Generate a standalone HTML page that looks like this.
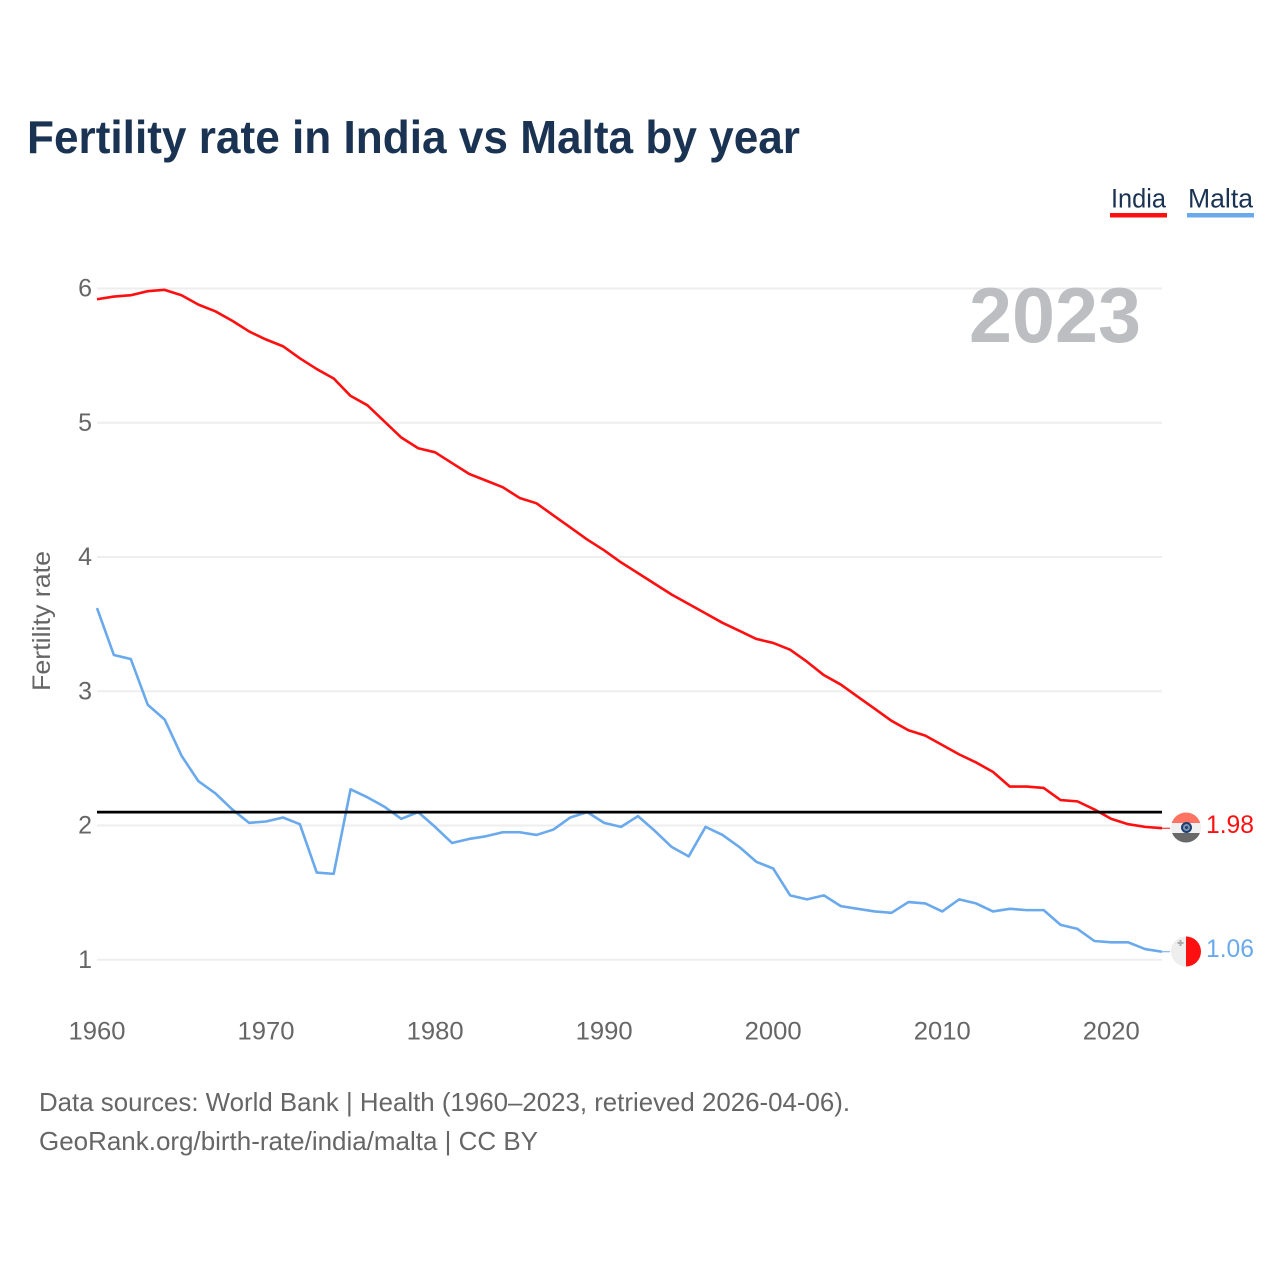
<!DOCTYPE html>
<html lang="en">
<head>
<meta charset="utf-8">
<title>Fertility rate in India vs Malta by year</title>
<style>
html,body{margin:0;padding:0;background:#fff;}
body{width:1280px;height:1280px;overflow:hidden;}
svg{display:block;font-family:"Liberation Sans",sans-serif;}
</style>
</head>
<body>
<svg id="chart" width="1280" height="1280" viewBox="0 0 1280 1280" xmlns="http://www.w3.org/2000/svg">
  <rect x="0" y="0" width="1280" height="1280" fill="#ffffff"/>
  <text x="27" y="153" font-size="46" font-weight="700" fill="#1a3353" textLength="773" lengthAdjust="spacingAndGlyphs">Fertility rate in India vs Malta by year</text>

  <g>
    <text x="1111" y="207.5" font-size="27" fill="#1a3353" textLength="55" lengthAdjust="spacingAndGlyphs">India</text>
    <rect x="1110" y="213" width="57" height="4.5" fill="#ff0f0f"/>
  </g>
  <g>
    <text x="1188" y="207.5" font-size="27" fill="#1a3353" textLength="65" lengthAdjust="spacingAndGlyphs">Malta</text>
    <rect x="1187" y="213" width="67" height="4.5" fill="#69a9ec"/>
  </g>

  <g id="grid"></g>
  <g id="yticks"></g>
  <g id="xticks"></g>

  <text x="969" y="342" font-size="78" font-weight="700" fill="#bcbec1" textLength="172" lengthAdjust="spacingAndGlyphs">2023</text>
  <text transform="translate(50,691) rotate(-90)" x="0" y="0" font-size="25" fill="#666666" textLength="140" lengthAdjust="spacingAndGlyphs">Fertility rate</text>

  <g id="series"></g>

  <g>
    <clipPath id="clip-india"><circle cx="1186" cy="827.5" r="15"/></clipPath>
    <g clip-path="url(#clip-india)">
      <rect x="1171" y="812" width="30" height="11" fill="#ff7362"/>
      <rect x="1171" y="823" width="30" height="10" fill="#f0f0f0"/>
      <rect x="1171" y="833" width="30" height="11" fill="#686868"/>
    </g>
    <circle cx="1186.5" cy="827.5" r="4.5" fill="#7f93ad" stroke="#1a3f73" stroke-width="2"/>
    <circle cx="1186.5" cy="827.5" r="1.5" fill="#1a3f73"/>
  </g>
  <g>
    <clipPath id="clip-malta"><circle cx="1186" cy="951.5" r="15"/></clipPath>
    <g clip-path="url(#clip-malta)">
      <rect x="1171" y="936" width="15" height="31" fill="#eeeeee"/>
      <rect x="1186" y="936" width="16" height="31" fill="#ff1010"/>
    </g>
    <rect x="1179.5" y="940" width="2" height="6" fill="#aaaaaa"/>
    <rect x="1177.5" y="942" width="6" height="2" fill="#aaaaaa"/>
  </g>

  <text x="1206" y="833" font-size="25" fill="#ff0f0f" textLength="48" lengthAdjust="spacingAndGlyphs">1.98</text>
  <text x="1206" y="957" font-size="25" fill="#69a9ec" textLength="48" lengthAdjust="spacingAndGlyphs">1.06</text>

  <text x="39" y="1111" font-size="26" fill="#666666" textLength="811" lengthAdjust="spacingAndGlyphs">Data sources: World Bank | Health (1960–2023, retrieved 2026-04-06).</text>
  <text x="39" y="1150" font-size="26" fill="#666666" textLength="499" lengthAdjust="spacingAndGlyphs">GeoRank.org/birth-rate/india/malta | CC BY</text>
</svg>
<script>
const years = [1960,1961,1962,1963,1964,1965,1966,1967,1968,1969,1970,1971,1972,1973,1974,1975,1976,1977,1978,1979,1980,1981,1982,1983,1984,1985,1986,1987,1988,1989,1990,1991,1992,1993,1994,1995,1996,1997,1998,1999,2000,2001,2002,2003,2004,2005,2006,2007,2008,2009,2010,2011,2012,2013,2014,2015,2016,2017,2018,2019,2020,2021,2022,2023];
const india = [5.92,5.94,5.95,5.98,5.99,5.95,5.88,5.83,5.76,5.68,5.62,5.57,5.48,5.40,5.33,5.20,5.13,5.01,4.89,4.81,4.78,4.70,4.62,4.57,4.52,4.44,4.40,4.31,4.22,4.13,4.05,3.96,3.88,3.80,3.72,3.65,3.58,3.51,3.45,3.39,3.36,3.31,3.22,3.12,3.05,2.96,2.87,2.78,2.71,2.67,2.60,2.53,2.47,2.40,2.29,2.29,2.28,2.19,2.18,2.12,2.05,2.01,1.99,1.98];
const malta = [3.62,3.27,3.24,2.90,2.79,2.52,2.33,2.24,2.12,2.02,2.03,2.06,2.01,1.65,1.64,2.27,2.21,2.14,2.05,2.10,1.99,1.87,1.90,1.92,1.95,1.95,1.93,1.97,2.06,2.10,2.02,1.99,2.07,1.96,1.84,1.77,1.99,1.93,1.84,1.73,1.68,1.48,1.45,1.48,1.40,1.38,1.36,1.35,1.43,1.42,1.36,1.45,1.42,1.36,1.38,1.37,1.37,1.26,1.23,1.14,1.13,1.13,1.08,1.06];
const yTickValues = [1,2,3,4,5,6];
const xTickValues = [1960,1970,1980,1990,2000,2010,2020];
const referenceLevel = [2.1];

const NS = 'http://www.w3.org/2000/svg';
const xScale = function (year) { return 97 + (year - 1960) * (1065 / 63); };
const yScale = function (value) { return 959.8 - (value - 1) * 134.26; };
const gridLayer = document.getElementById('grid');
const yTickLayer = document.getElementById('yticks');
const xTickLayer = document.getElementById('xticks');
const seriesLayer = document.getElementById('series');
const xStart = xScale(years[0]);
const xEnd = xScale(years[years.length - 1]);

function make(tag, parent, attrs) {
  const el = document.createElementNS(NS, tag);
  Object.keys(attrs).forEach(function (k) { el.setAttribute(k, attrs[k]); });
  parent.appendChild(el);
  return el;
}

yTickValues.forEach(function (v) {
  const line = make('line', gridLayer, { x1: xStart, x2: xEnd, y1: yScale(v), y2: yScale(v), stroke: '#eeeeee', 'stroke-width': 2 });
  
  
  const label = make('text', yTickLayer, { x: 92, y: yScale(v) + 8, 'text-anchor': 'end', 'font-size': 25, fill: '#666666' });
  label.textContent = String(v);
  
  
});

xTickValues.forEach(function (y) {
  const label = make('text', xTickLayer, { x: xScale(y), y: 1039.5, 'text-anchor': 'middle', 'font-size': 25, fill: '#666666', textLength: 57, lengthAdjust: 'spacingAndGlyphs' });
  label.textContent = String(y);
  
  
});

function drawSeries(name, values, color) {
  const points = values.map(function (v, i) { return xScale(years[i]).toFixed(2) + ',' + yScale(v).toFixed(2); }).join(' ');
  const line = make('polyline', seriesLayer, { points: points, fill: 'none', stroke: color, 'stroke-width': 2.6, 'stroke-linejoin': 'round' });
  
  
  const last = values[values.length - 1];
  const leader = make('line', seriesLayer, { x1: xEnd, x2: 1170, y1: yScale(last), y2: yScale(last), stroke: color, 'stroke-width': 1 });
  
  
}

drawSeries('india', india, '#ff0f0f');
drawSeries('malta', malta, '#69a9ec');

const refLine = make('line', seriesLayer, { x1: xStart, x2: xEnd, y1: yScale(referenceLevel[0]), y2: yScale(referenceLevel[0]), stroke: '#000000', 'stroke-width': 2.8 });


</script>
</body>
</html>
